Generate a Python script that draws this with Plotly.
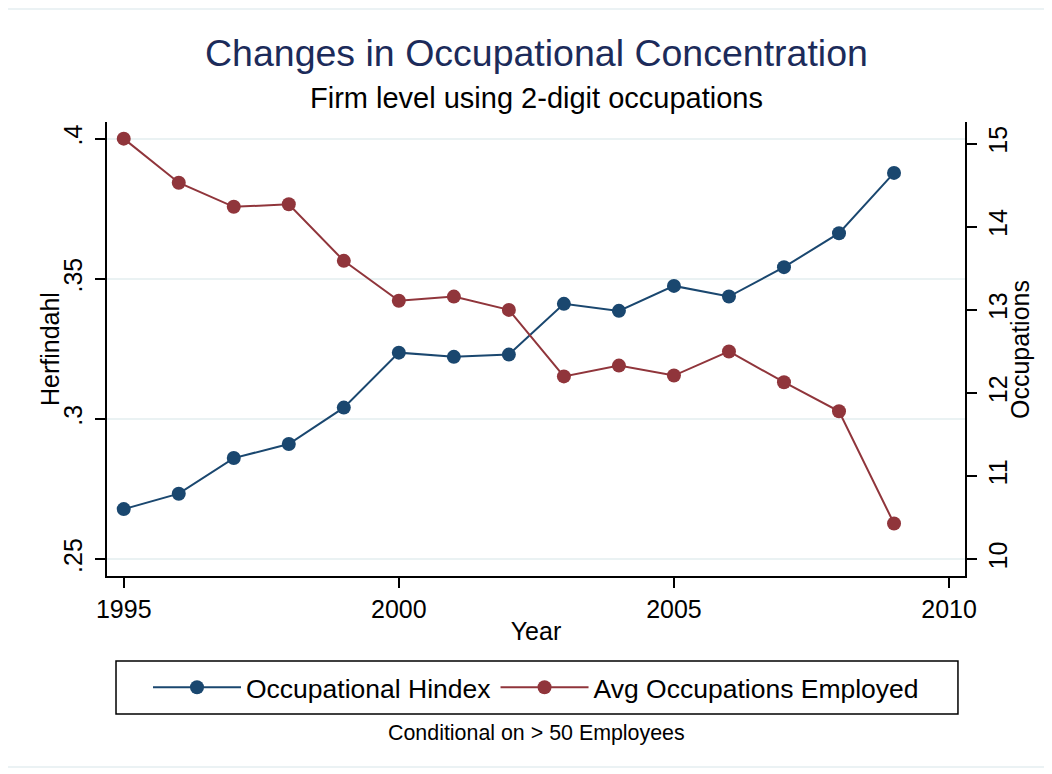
import plotly.graph_objects as go

years = list(range(1995, 2010))
hindex = [0.2679, 0.2734, 0.2861, 0.2911, 0.3041, 0.3237, 0.3222, 0.3230,
          0.3411, 0.3386, 0.3475, 0.3437, 0.3542, 0.3663, 0.3878]
avg_occ = [15.06, 14.53, 14.24, 14.27, 13.59, 13.11, 13.16, 13.00,
           12.20, 12.33, 12.21, 12.50, 12.13, 11.78, 10.43]

left_ticks = [0.25, 0.30, 0.35, 0.40]
left_labels = [".25", ".3", ".35", ".4"]
right_ticks = [10, 11, 12, 13, 14, 15]
x_ticks = [1995, 2000, 2005, 2010]

BLUE = "#1a476f"
RED = "#90353b"
FONT = "Liberation Sans, Arial, Helvetica, sans-serif"

fig = go.Figure()
fig.add_trace(go.Scatter(
    x=years, y=hindex, mode="lines+markers", name="Occupational Hindex",
    line=dict(color=BLUE, width=2), marker=dict(color=BLUE, size=14),
    yaxis="y"))
fig.add_trace(go.Scatter(
    x=years, y=avg_occ, mode="lines+markers", name="Avg Occupations Employed",
    line=dict(color=RED, width=2), marker=dict(color=RED, size=14),
    yaxis="y2"))

axis_common = dict(showline=True, linecolor="black", linewidth=1.5,
                   ticks="outside", ticklen=10, tickwidth=1.5, tickcolor="black",
                   zeroline=False, automargin=False,
                   tickfont=dict(size=25, color="black", family=FONT))

# page body has an 8px default margin; margins compensate for it
fig.update_layout(
    width=1052, height=774,
    margin=dict(l=99, r=95, t=114, b=206, autoexpand=False),
    paper_bgcolor="white", plot_bgcolor="white",
    font=dict(family=FONT, color="black"),
    showlegend=True,
    xaxis=dict(range=[1994.696, 2010.29], tickvals=x_ticks, showgrid=False,
               title=dict(text="Year", font=dict(size=25), standoff=1),
               **axis_common),
    yaxis=dict(range=[0.24404, 0.40596], tickvals=left_ticks, ticktext=left_labels,
               tickangle=-90, showgrid=True, gridcolor="#eaf2f3", gridwidth=1.5,
               ticklabelstandoff=3,
               **axis_common),
    yaxis2=dict(range=[9.799, 15.26], tickvals=right_ticks, tickangle=-90,
                overlaying="y", side="right", showgrid=False,
                **axis_common),
    legend=dict(orientation="h", x=0.5, xanchor="center", y=-0.2456, yanchor="middle",
                borderwidth=0, bgcolor="rgba(0,0,0,0)",
                font=dict(size=26.5, color="black"),
                itemwidth=88),
    annotations=[
        dict(text="Changes in Occupational Concentration", x=0.5, y=1.152,
             xref="paper", yref="paper", xanchor="center", yanchor="middle",
             showarrow=False, font=dict(size=37.5, color="#1c2b5a")),
        dict(text="Firm level using 2-digit occupations", x=0.5, y=1.053,
             xref="paper", yref="paper", xanchor="center", yanchor="middle",
             showarrow=False, font=dict(size=29, color="black")),
        dict(text="Herfindahl", x=-0.0664, y=0.5, textangle=-90,
             xref="paper", yref="paper", xanchor="center", yanchor="middle",
             showarrow=False, font=dict(size=25, color="black")),
        dict(text="Occupations", x=1.0641, y=0.5, textangle=-90,
             xref="paper", yref="paper", xanchor="center", yanchor="middle",
             showarrow=False, font=dict(size=25, color="black")),
        dict(text="Conditional on > 50 Employees", x=0.5, y=-0.346,
             xref="paper", yref="paper", xanchor="center", yanchor="middle",
             showarrow=False, font=dict(size=21.4, color="black")),
    ],
    shapes=[
        dict(type="rect", xref="paper", yref="paper",
             x0=-0.1166, x1=1.0932, y0=-0.4207, y1=1.249,
             line=dict(color="#e5eef1", width=1.5), layer="below"),
        # legend frame
        dict(type="rect", xref="paper", yref="paper",
             x0=0.0105, x1=0.9918, y0=-0.304, y1=-0.1872,
             line=dict(color="black", width=1.5), fillcolor="rgba(0,0,0,0)",
             layer="above"),
    ],
)

fig.write_html("out.html")
